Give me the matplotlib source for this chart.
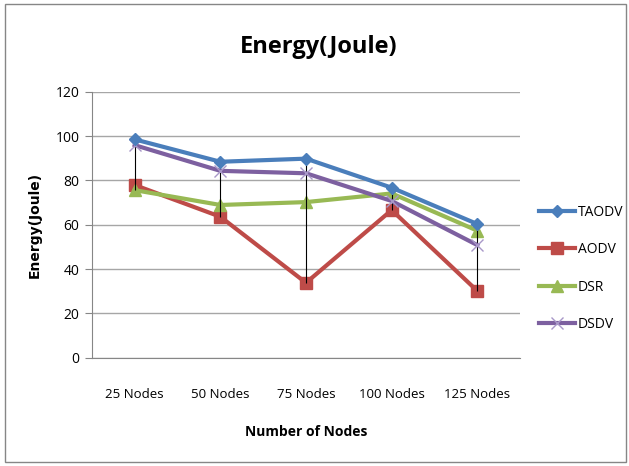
import matplotlib
matplotlib.use('Agg')
import matplotlib.pyplot as plt
from matplotlib.patches import Rectangle
import numpy as np

plt.rcParams['font.family'] = ['Open Sans', 'DejaVu Sans']

# data
categories = ['25 Nodes', '50 Nodes', '75 Nodes', '100 Nodes', '125 Nodes']
taodv = [98.5, 88.4, 89.8, 76.7, 60.3]
aodv = [77.9, 63.6, 33.8, 66.6, 30.1]
dsr = [75.6, 68.9, 70.2, 74.1, 57.3]
dsdv = [95.9, 84.3, 83.2, 70.7, 50.8]

fig = plt.figure(figsize=(6.29, 4.66), dpi=100)
ax = fig.add_axes([0.146, 0.2324, 0.681, 0.5708])

x = np.arange(len(categories))

# high-low lines
allv = np.array([taodv, aodv, dsr, dsdv])
ax.vlines(x, allv.min(axis=0), allv.max(axis=0), color='black', lw=0.8, zorder=4)

ax.plot(x, taodv, color='#4a7ebb', lw=3, marker='D', ms=6, label='TAODV', zorder=5)
ax.plot(x, aodv, color='#be4b48', lw=3, marker='s', ms=8, label='AODV', zorder=3)
ax.plot(x, dsr, color='#98b954', lw=3, marker='^', ms=8, label='DSR', zorder=3)
ax.plot(x, dsdv, color='#7d60a0', lw=3, marker='x', ms=9, mew=1, mec='#a898c8',
        label='DSDV', zorder=4)

ax.set_xlim(-0.5, 4.5)
ax.set_ylim(0, 120)
ax.set_yticks(range(0, 121, 20))
ax.set_xticks(x)
ax.set_xticklabels(categories, fontsize=9.5)
ax.tick_params(axis='y', labelsize=10, length=5, color='#868686', pad=4)
ax.tick_params(axis='x', length=0, pad=22)
ax.grid(axis='y', color='#a6a6a6', lw=1)
ax.set_axisbelow(True)
for s in ['top', 'right']:
    ax.spines[s].set_visible(False)
ax.spines['left'].set_color('#868686')
ax.spines['bottom'].set_color('#868686')

fig.text(0.507, 0.899, 'Energy(Joule)', fontsize=17, fontweight='bold',
         ha='center', va='center')
ax.set_xlabel('Number of Nodes', fontsize=10, fontweight='bold', labelpad=17)
ax.set_ylabel('Energy(Joule)', fontsize=10, fontweight='bold',
              family=['DejaVu Sans'], labelpad=10)

ax.legend(loc='center left', bbox_to_anchor=(1.015, 0.335), frameon=False,
          fontsize=10, handlelength=2.6, labelspacing=1.62, handletextpad=0.2)

fig.patches.append(Rectangle((0.008, 0.008), 0.988, 0.984, transform=fig.transFigure,
                             fill=False, edgecolor='#868686', lw=1))

fig.savefig('out.png', dpi=100)
